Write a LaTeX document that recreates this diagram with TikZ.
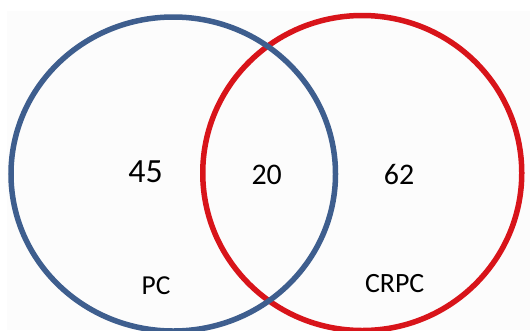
\documentclass[tikz,border=0pt]{standalone}
\usepackage{fontspec}
\setmainfont{Carlito}
\definecolor{pcblue}{HTML}{3E5E8E}
\definecolor{crpcred}{HTML}{D8141A}
\definecolor{bgpanel}{HTML}{FCFCFC}
\begin{document}
\begin{tikzpicture}[x=1bp,y=-1bp,
  ring/.style={line width=5.5bp},
  lbl/.style={anchor=base,inner sep=0pt,text=black}]
\useasboundingbox (0,0) rectangle (530,330);
\fill[white] (0,0) rectangle (530,330);
\fill[bgpanel] (7,11) rectangle (530,330);
\draw[ring,crpcred] (362.25,173) ellipse [x radius=159.5, y radius=157.5];
\draw[ring,pcblue] (173.25,174) ellipse [x radius=162.25, y radius=157];
\node[lbl,font=\fontsize{34}{34}\selectfont] (n45) at (145.5,182.7) {45};
\node[lbl,font=\fontsize{30}{30}\selectfont] (n20) at (266.7,184.3) {20};
\node[lbl,font=\fontsize{30}{30}\selectfont] (n62) at (399,184.3) {62};
\node[lbl,font=\fontsize{27.5}{27.5}\selectfont] (pc) at (156,294.3) {PC};
\node[lbl,font=\fontsize{28}{28}\selectfont] (crpc) at (394.7,292.3) {CRPC};
\end{tikzpicture}
\end{document}
